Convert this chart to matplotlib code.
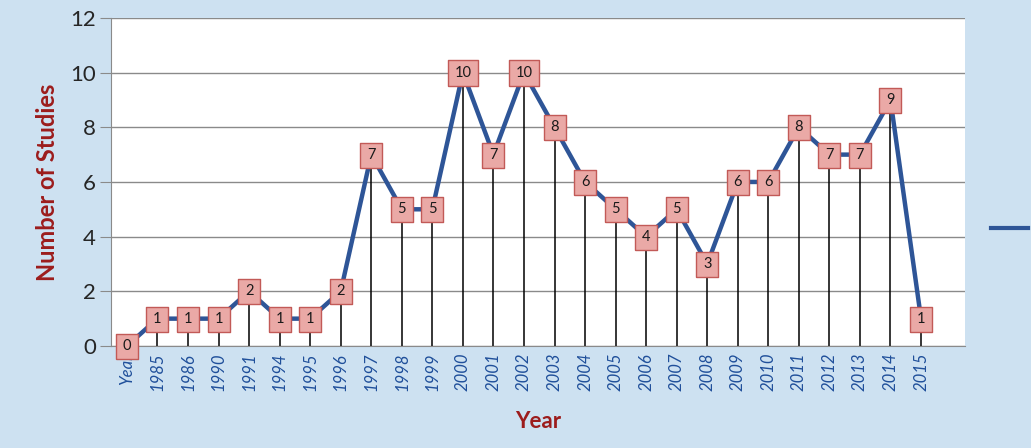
import matplotlib
matplotlib.use("Agg")
import matplotlib.pyplot as plt
from matplotlib.lines import Line2D

# Studies published per year
categories = ["Year", "1985", "1986", "1990", "1991", "1994", "1995", "1996",
              "1997", "1998", "1999", "2000", "2001", "2002", "2003", "2004",
              "2005", "2006", "2007", "2008", "2009", "2010", "2011", "2012",
              "2013", "2014", "2015"]
studies = [0, 1, 1, 1, 2, 1, 1, 2, 7, 5, 5, 10, 7, 10, 8, 6, 5, 4, 5, 3,
           6, 6, 8, 7, 7, 9, 1]
y_ticks = [0, 2, 4, 6, 8, 10, 12]

plt.rcParams["font.family"] = ["Lato", "DejaVu Sans"]

bg = "#cde1f1"
line_blue = "#2e5597"
label_red = "#9c1c1c"
tick_blue = "#1f4f9a"
box_face = "#eaa9a6"
box_edge = "#c25a57"

fig = plt.figure(figsize=(10.31, 4.48), dpi=100, facecolor=bg)
ax = fig.add_axes([0.1077, 0.2277, 0.8283, 0.7323])
ax.set_facecolor("white")

x = list(range(len(categories)))

# horizontal gridlines
ax.set_ylim(0, 12)
ax.set_yticks(y_ticks)
ax.yaxis.grid(True, color="#8a8a8a", linewidth=1.0)
ax.set_axisbelow(True)

# drop lines from each point to the axis
ax.vlines(x, 0, studies, colors="black", linewidths=1.1, zorder=2)

# the series line
ax.plot(x, studies, color=line_blue, linewidth=3.2, zorder=3,
        solid_capstyle="round", solid_joinstyle="round")

# boxed data labels centred on each point
narrow_box = [(-0.44, -0.5), (0.44, -0.5), (0.44, 0.5), (-0.44, 0.5), (-0.44, -0.5)]
wide_box = [(-0.5, -0.433), (0.5, -0.433), (0.5, 0.433), (-0.5, 0.433), (-0.5, -0.433)]
for xi, v in zip(x, studies):
    wide = len(str(v)) > 1
    ax.plot([xi], [v], marker=wide_box if wide else narrow_box,
            markersize=21.6 if wide else 18.0,
            markerfacecolor=box_face, markeredgecolor=box_edge,
            markeredgewidth=1.0, linestyle="none", zorder=4, clip_on=False)
    ax.text(xi, v, str(v), ha="center", va="center", fontsize=10.5,
            color="#1a1a1a", zorder=5, clip_on=False)

ax.set_xlim(-0.52, 27.44)
ax.set_xticks(x)
ax.set_xticklabels(categories, rotation=90, style="italic",
                   color=tick_blue, fontsize=12)
ax.tick_params(axis="x", length=0, pad=5)
ax.tick_params(axis="y", length=8, color="#8a8a8a", labelsize=16,
               labelcolor="#262626", pad=3)

for side in ["top", "right"]:
    ax.spines[side].set_visible(False)
ax.spines["left"].set_color("#8a8a8a")
ax.spines["bottom"].set_color("#8a8a8a")

ax.set_ylabel("Number of Studies", fontsize=17, fontweight="bold",
              color=label_red, labelpad=8)
ax.set_xlabel("Year", fontsize=16, fontweight="bold", color=label_red,
              labelpad=14)

# legend key at the right edge
fig.add_artist(Line2D([0.961, 0.997], [0.491, 0.491], transform=fig.transFigure,
                      color=line_blue, linewidth=3.0))

fig.savefig("out.png", dpi=100, facecolor=bg)
